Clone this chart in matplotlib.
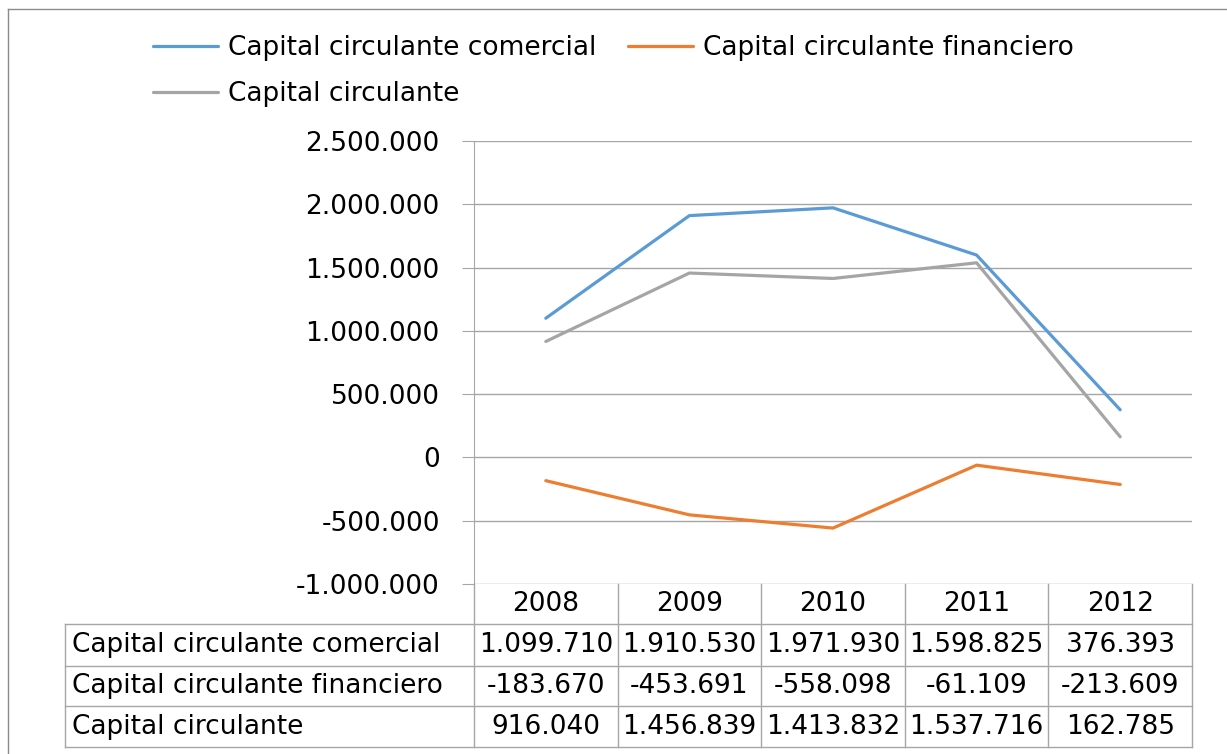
import matplotlib.pyplot as plt
from matplotlib.lines import Line2D
import numpy as np

years = ['2008', '2009', '2010', '2011', '2012']
comercial = [1099710, 1910530, 1971930, 1598825, 376393]
financiero = [-183670, -453691, -558098, -61109, -213609]
circulante = [916040, 1456839, 1413832, 1537716, 162785]
names = ['Capital circulante comercial', 'Capital circulante financiero', 'Capital circulante']
colors = ['#5B9BD5', '#ED7D31', '#A5A5A5']
yticks = np.arange(-1000000, 2500001, 500000)


def fmt(v):
    # Spanish style thousands separator
    return f'{v:,.0f}'.replace(',', '.')


plt.rcParams['font.family'] = ['DejaVu Sans']
W, H = 1227, 754
fs = 19
grey = '#A6A6A6'

fig = plt.figure(figsize=(W / 100, H / 100), dpi=100)
ax = fig.add_axes([474 / W, 1 - 584 / H, (1192 - 474) / W, (584 - 141) / H])

x = np.arange(len(years))
series = [comercial, financiero, circulante]
lines = []
for vals, name, c in zip(series, names, colors):
    ln, = ax.plot(x, vals, color=c, lw=2.3, label=name, solid_capstyle='round', zorder=3)
    lines.append(ln)

ax.set_xlim(-0.5, len(years) - 0.5)
ax.set_ylim(yticks[0], yticks[-1])
ax.set_yticks(yticks)
ax.set_yticklabels([fmt(v) for v in yticks], fontsize=fs)
ax.set_xticks([])
ax.grid(axis='y', color=grey, lw=1)
for s in ['top', 'right', 'bottom']:
    ax.spines[s].set_visible(False)
ax.spines['left'].set_color(grey)
ax.tick_params(axis='y', length=8.6, width=0.8, color=grey, pad=16)

# data table under the plot
rows = [0, -40 / 443, -82 / 443, -122 / 443, -163 / 443]
left = (65 - 474) / 718
xt = ax.get_xaxis_transform()
lk = dict(color=grey, lw=1, clip_on=False)
for xb in np.arange(-0.5, len(years)):
    ax.plot([xb, xb], [rows[0], rows[-1]], transform=xt, **lk)
for yb in rows[1:]:
    ax.plot([left, 1], [yb, yb], transform=ax.transAxes, **lk)
ax.plot([left, left], [rows[1], rows[-1]], transform=ax.transAxes, **lk)

for i, yr in enumerate(years):
    ax.text(i, (rows[0] + rows[1]) / 2, yr, transform=xt, ha='center', va='center', fontsize=fs)
for r, (vals, name) in enumerate(zip(series, names)):
    yc = (rows[r + 1] + rows[r + 2]) / 2
    ax.text(left + 7 / 718, yc, name, transform=ax.transAxes, ha='left', va='center', fontsize=fs)
    for i, v in enumerate(vals):
        ax.text(i, yc, fmt(v), transform=xt, ha='center', va='center', fontsize=fs)

# chart area border (left and top visible)
fig.add_artist(Line2D([7.5 / W, 7.5 / W], [0, 1 - 9 / H], color='#8C8C8C', lw=1))
fig.add_artist(Line2D([7.5 / W, 1], [1 - 9 / H, 1 - 9 / H], color='#8C8C8C', lw=1))

fig.legend(handles=[lines[0], lines[2], lines[1]], ncol=2, loc='upper left',
           bbox_to_anchor=(153 / W, 1 - 35 / H), frameon=False, fontsize=fs,
           handlelength=2.46, handletextpad=0.38, columnspacing=1.2,
           labelspacing=0.77, borderpad=0, borderaxespad=0)

fig.savefig('out.png', dpi=100)
